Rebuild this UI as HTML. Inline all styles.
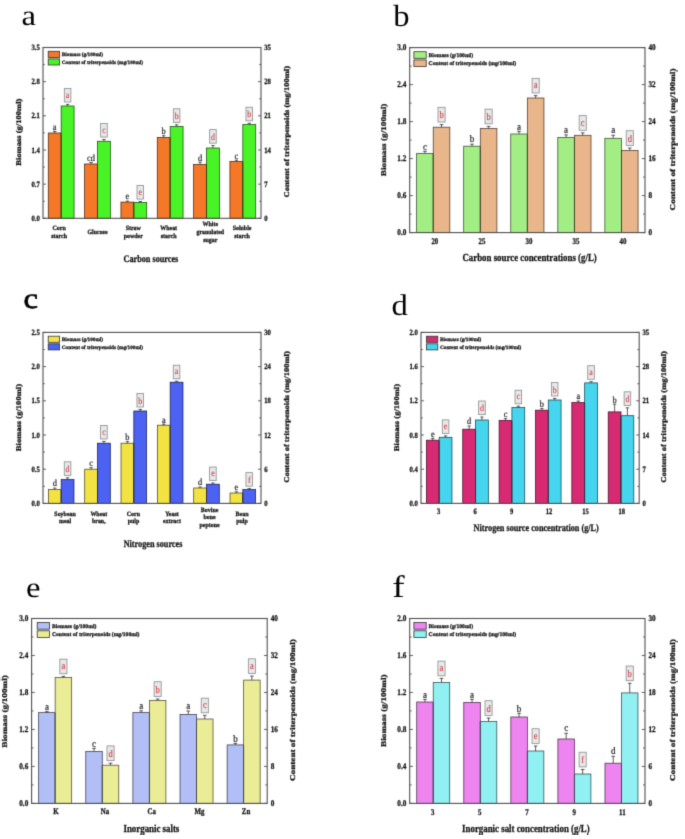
<!DOCTYPE html>
<html><head><meta charset="utf-8"><title>Figure</title>
<style>
html,body{margin:0;padding:0;background:#fff;width:685px;height:839px;overflow:hidden}
svg{display:block;font-family:"Liberation Serif",serif;text-rendering:geometricPrecision}
</style></head><body>
<svg width="685" height="839" viewBox="0 0 685 839">
<defs><filter id="bl" x="0" y="0" width="100%" height="100%" color-interpolation-filters="sRGB"><feConvolveMatrix order="3" kernelMatrix="0 1 0 1 4 1 0 1 0" divisor="8" edgeMode="duplicate"/></filter></defs>
<rect width="685" height="839" fill="#fff"/>
<g filter="url(#bl)">
<text transform="translate(21.5 25.3) scale(1.07 0.94)" font-size="30.5" fill="#000">a</text>
<rect x="48.27" y="133" width="12.9" height="85.3" fill="#F47828" stroke="#4E260C" stroke-width="0.75"/>
<path d="M54.72 133V131.5M53.02 131.5H56.42" stroke="#333" stroke-width="0.8" fill="none"/>
<rect x="61.17" y="106" width="12.9" height="112.3" fill="#48F426" stroke="#174E0C" stroke-width="0.75"/>
<path d="M67.62 106V104.4M65.92 104.4H69.32" stroke="#333" stroke-width="0.8" fill="none"/>
<path d="M61.17 133.4V218.3" stroke="#323A0C" stroke-width="0.75"/>
<text transform="translate(54.72 129.8) scale(0.9 1)" font-size="9.3" text-anchor="middle" fill="#1a1a1a" stroke="#1a1a1a" stroke-width="0.2">a</text>
<rect x="64.32" y="88.4" width="6.6" height="13.6" fill="#E4E9E9" stroke="#8C8C8C" stroke-width="0.8"/>
<text transform="translate(67.62 97.6) scale(0.85 1)" font-size="9.3" text-anchor="middle" fill="#E23240" stroke="#E23240" stroke-width="0.12">a</text>
<text transform="translate(59.17 229.93) scale(0.9 1)" font-size="6.6" text-anchor="middle" font-weight="bold" fill="#161616" stroke="#161616" stroke-width="0.3">Corn</text>
<text transform="translate(59.17 237.83) scale(0.9 1)" font-size="6.6" text-anchor="middle" font-weight="bold" fill="#161616" stroke="#161616" stroke-width="0.3">starch</text>
<rect x="84.6" y="164" width="12.9" height="54.3" fill="#F47828" stroke="#4E260C" stroke-width="0.75"/>
<path d="M91.05 164V162.5M89.35 162.5H92.75" stroke="#333" stroke-width="0.8" fill="none"/>
<rect x="97.5" y="141.25" width="12.9" height="77.05" fill="#48F426" stroke="#174E0C" stroke-width="0.75"/>
<path d="M103.95 141.25V139.45M102.25 139.45H105.65" stroke="#333" stroke-width="0.8" fill="none"/>
<path d="M97.5 164.4V218.3" stroke="#323A0C" stroke-width="0.75"/>
<text transform="translate(91.05 160.8) scale(0.9 1)" font-size="9.3" text-anchor="middle" fill="#1a1a1a" stroke="#1a1a1a" stroke-width="0.2">cd</text>
<rect x="100.65" y="123.45" width="6.6" height="13.6" fill="#E4E9E9" stroke="#8C8C8C" stroke-width="0.8"/>
<text transform="translate(103.95 132.65) scale(0.85 1)" font-size="9.3" text-anchor="middle" fill="#E23240" stroke="#E23240" stroke-width="0.12">c</text>
<text transform="translate(97.5 233.88) scale(0.9 1)" font-size="6.6" text-anchor="middle" font-weight="bold" fill="#161616" stroke="#161616" stroke-width="0.3">Glucose</text>
<rect x="120.93" y="202.1" width="12.9" height="16.2" fill="#F47828" stroke="#4E260C" stroke-width="0.75"/>
<path d="M127.38 202.1V201.1M125.68 201.1H129.08" stroke="#333" stroke-width="0.8" fill="none"/>
<rect x="133.83" y="202.5" width="12.9" height="15.8" fill="#48F426" stroke="#174E0C" stroke-width="0.75"/>
<path d="M140.28 202.5V201.5M138.58 201.5H141.98" stroke="#333" stroke-width="0.8" fill="none"/>
<path d="M133.83 202.9V218.3" stroke="#323A0C" stroke-width="0.75"/>
<text transform="translate(127.38 199.4) scale(0.9 1)" font-size="9.3" text-anchor="middle" fill="#1a1a1a" stroke="#1a1a1a" stroke-width="0.2">e</text>
<rect x="136.98" y="185.5" width="6.6" height="13.6" fill="#E4E9E9" stroke="#8C8C8C" stroke-width="0.8"/>
<text transform="translate(140.28 194.7) scale(0.85 1)" font-size="9.3" text-anchor="middle" fill="#E23240" stroke="#E23240" stroke-width="0.12">e</text>
<text transform="translate(133.23 229.93) scale(0.9 1)" font-size="6.6" text-anchor="middle" font-weight="bold" fill="#161616" stroke="#161616" stroke-width="0.3">Straw</text>
<text transform="translate(133.23 237.83) scale(0.9 1)" font-size="6.6" text-anchor="middle" font-weight="bold" fill="#161616" stroke="#161616" stroke-width="0.3">powder</text>
<rect x="157.27" y="137.5" width="12.9" height="80.8" fill="#F47828" stroke="#4E260C" stroke-width="0.75"/>
<path d="M163.72 137.5V135.7M162.02 135.7H165.42" stroke="#333" stroke-width="0.8" fill="none"/>
<rect x="170.17" y="126.4" width="12.9" height="91.9" fill="#48F426" stroke="#174E0C" stroke-width="0.75"/>
<path d="M176.62 126.4V124.8M174.92 124.8H178.32" stroke="#333" stroke-width="0.8" fill="none"/>
<path d="M170.17 137.9V218.3" stroke="#323A0C" stroke-width="0.75"/>
<text transform="translate(163.72 134) scale(0.9 1)" font-size="9.3" text-anchor="middle" fill="#1a1a1a" stroke="#1a1a1a" stroke-width="0.2">b</text>
<rect x="173.32" y="108.8" width="6.6" height="13.6" fill="#E4E9E9" stroke="#8C8C8C" stroke-width="0.8"/>
<text transform="translate(176.62 118.9) scale(0.85 1)" font-size="9.3" text-anchor="middle" fill="#E23240" stroke="#E23240" stroke-width="0.12">b</text>
<text transform="translate(168.67 229.93) scale(0.9 1)" font-size="6.6" text-anchor="middle" font-weight="bold" fill="#161616" stroke="#161616" stroke-width="0.3">Wheat</text>
<text transform="translate(168.67 237.83) scale(0.9 1)" font-size="6.6" text-anchor="middle" font-weight="bold" fill="#161616" stroke="#161616" stroke-width="0.3">starch</text>
<rect x="193.6" y="164.4" width="12.9" height="53.9" fill="#F47828" stroke="#4E260C" stroke-width="0.75"/>
<path d="M200.05 164.4V162.2M198.35 162.2H201.75" stroke="#333" stroke-width="0.8" fill="none"/>
<rect x="206.5" y="148" width="12.9" height="70.3" fill="#48F426" stroke="#174E0C" stroke-width="0.75"/>
<path d="M212.95 148V145.6M211.25 145.6H214.65" stroke="#333" stroke-width="0.8" fill="none"/>
<path d="M206.5 164.8V218.3" stroke="#323A0C" stroke-width="0.75"/>
<text transform="translate(200.05 160.5) scale(0.9 1)" font-size="9.3" text-anchor="middle" fill="#1a1a1a" stroke="#1a1a1a" stroke-width="0.2">d</text>
<rect x="209.65" y="129.6" width="6.6" height="13.6" fill="#E4E9E9" stroke="#8C8C8C" stroke-width="0.8"/>
<text transform="translate(212.95 139.7) scale(0.85 1)" font-size="9.3" text-anchor="middle" fill="#E23240" stroke="#E23240" stroke-width="0.12">d</text>
<text transform="translate(210.3 225.98) scale(0.9 1)" font-size="6.6" text-anchor="middle" font-weight="bold" fill="#161616" stroke="#161616" stroke-width="0.3">White</text>
<text transform="translate(210.3 233.88) scale(0.9 1)" font-size="6.6" text-anchor="middle" font-weight="bold" fill="#161616" stroke="#161616" stroke-width="0.3">granulated</text>
<text transform="translate(210.3 241.78) scale(0.9 1)" font-size="6.6" text-anchor="middle" font-weight="bold" fill="#161616" stroke="#161616" stroke-width="0.3">sugar</text>
<rect x="229.93" y="161.4" width="12.9" height="56.9" fill="#F47828" stroke="#4E260C" stroke-width="0.75"/>
<path d="M236.38 161.4V160.2M234.68 160.2H238.08" stroke="#333" stroke-width="0.8" fill="none"/>
<rect x="242.83" y="124.6" width="12.9" height="93.7" fill="#48F426" stroke="#174E0C" stroke-width="0.75"/>
<path d="M249.28 124.6V123.2M247.58 123.2H250.98" stroke="#333" stroke-width="0.8" fill="none"/>
<path d="M242.83 161.8V218.3" stroke="#323A0C" stroke-width="0.75"/>
<text transform="translate(236.38 158.5) scale(0.9 1)" font-size="9.3" text-anchor="middle" fill="#1a1a1a" stroke="#1a1a1a" stroke-width="0.2">c</text>
<rect x="245.98" y="107.2" width="6.6" height="13.6" fill="#E4E9E9" stroke="#8C8C8C" stroke-width="0.8"/>
<text transform="translate(249.28 117.3) scale(0.85 1)" font-size="9.3" text-anchor="middle" fill="#E23240" stroke="#E23240" stroke-width="0.12">b</text>
<text transform="translate(242.03 229.93) scale(0.9 1)" font-size="6.6" text-anchor="middle" font-weight="bold" fill="#161616" stroke="#161616" stroke-width="0.3">Soluble</text>
<text transform="translate(242.03 237.83) scale(0.9 1)" font-size="6.6" text-anchor="middle" font-weight="bold" fill="#161616" stroke="#161616" stroke-width="0.3">starch</text>
<rect x="43" y="47.5" width="218" height="170.8" fill="none" stroke="#505050" stroke-width="1.1"/>
<path d="M43 218.3h3M261 218.3h-3M43 201.22h1.8M261 201.22h-1.8M43 184.14h3M261 184.14h-3M43 167.06h1.8M261 167.06h-1.8M43 149.98h3M261 149.98h-3M43 132.9h1.8M261 132.9h-1.8M43 115.82h3M261 115.82h-3M43 98.74h1.8M261 98.74h-1.8M43 81.66h3M261 81.66h-3M43 64.58h1.8M261 64.58h-1.8M43 47.5h3M261 47.5h-3" stroke="#505050" stroke-width="0.9" fill="none"/>
<text transform="translate(39.9 220.94) scale(0.84 1)" font-size="8" text-anchor="end" font-weight="bold" fill="#161616" stroke="#161616" stroke-width="0.3">0.0</text>
<text transform="translate(264.2 220.94) scale(0.84 1)" font-size="8" font-weight="bold" fill="#161616" stroke="#161616" stroke-width="0.3">0</text>
<text transform="translate(39.9 186.78) scale(0.84 1)" font-size="8" text-anchor="end" font-weight="bold" fill="#161616" stroke="#161616" stroke-width="0.3">0.7</text>
<text transform="translate(264.2 186.78) scale(0.84 1)" font-size="8" font-weight="bold" fill="#161616" stroke="#161616" stroke-width="0.3">7</text>
<text transform="translate(39.9 152.62) scale(0.84 1)" font-size="8" text-anchor="end" font-weight="bold" fill="#161616" stroke="#161616" stroke-width="0.3">1.4</text>
<text transform="translate(264.2 152.62) scale(0.84 1)" font-size="8" font-weight="bold" fill="#161616" stroke="#161616" stroke-width="0.3">14</text>
<text transform="translate(39.9 118.46) scale(0.84 1)" font-size="8" text-anchor="end" font-weight="bold" fill="#161616" stroke="#161616" stroke-width="0.3">2.1</text>
<text transform="translate(264.2 118.46) scale(0.84 1)" font-size="8" font-weight="bold" fill="#161616" stroke="#161616" stroke-width="0.3">21</text>
<text transform="translate(39.9 84.3) scale(0.84 1)" font-size="8" text-anchor="end" font-weight="bold" fill="#161616" stroke="#161616" stroke-width="0.3">2.8</text>
<text transform="translate(264.2 84.3) scale(0.84 1)" font-size="8" font-weight="bold" fill="#161616" stroke="#161616" stroke-width="0.3">28</text>
<text transform="translate(39.9 50.14) scale(0.84 1)" font-size="8" text-anchor="end" font-weight="bold" fill="#161616" stroke="#161616" stroke-width="0.3">3.5</text>
<text transform="translate(264.2 50.14) scale(0.84 1)" font-size="8" font-weight="bold" fill="#161616" stroke="#161616" stroke-width="0.3">35</text>
<rect x="48.2" y="51.3" width="11.4" height="6.1" fill="#F47828" stroke="#333" stroke-width="0.8"/>
<text transform="translate(61.8 56.05)" font-size="5.25" font-weight="bold" fill="#161616" stroke="#161616" stroke-width="0.28">Biomass (g/100ml)</text>
<rect x="48.2" y="58.9" width="11.4" height="6.1" fill="#48F426" stroke="#333" stroke-width="0.8"/>
<text transform="translate(61.8 63.65)" font-size="5.25" font-weight="bold" fill="#161616" stroke="#161616" stroke-width="0.28">Content of triterpenoids (mg/100ml)</text>
<text transform="translate(150.9 261.8) scale(0.82 1)" font-size="10" text-anchor="middle" font-weight="bold" fill="#161616" stroke="#161616" stroke-width="0.3">Carbon sources</text>
<text transform="translate(20.8 132.2) rotate(-90) scale(1 0.85)" font-size="8.55" text-anchor="middle" font-weight="bold" fill="#161616" stroke="#161616" stroke-width="0.35">Biomass (g/100ml)</text>
<text transform="translate(288.7 131.75) rotate(-90) scale(1 0.85)" font-size="8.5" text-anchor="middle" font-weight="bold" fill="#161616" stroke="#161616" stroke-width="0.35">Content of triterpenoids (mg/100ml)</text>
<text transform="translate(393.2 25.5) scale(1.07 1)" font-size="30.5" fill="#000">b</text>
<rect x="416.63" y="153.4" width="16.6" height="79.2" fill="#A3EE84" stroke="#344C2A" stroke-width="0.75"/>
<path d="M424.93 153.4V151.4M423.09 151.4H426.77" stroke="#333" stroke-width="0.8" fill="none"/>
<rect x="433.23" y="127.2" width="16.6" height="105.4" fill="#E8B68A" stroke="#4A3A2C" stroke-width="0.75"/>
<path d="M441.53 127.2V124.6M439.69 124.6H443.37" stroke="#333" stroke-width="0.8" fill="none"/>
<path d="M433.23 153.8V232.6" stroke="#3F432B" stroke-width="0.75"/>
<text transform="translate(424.93 149.56) scale(0.9 1)" font-size="10.04" text-anchor="middle" fill="#1a1a1a" stroke="#1a1a1a" stroke-width="0.2">c</text>
<rect x="437.97" y="107.32" width="7.13" height="14.69" fill="#E4E9E9" stroke="#8C8C8C" stroke-width="0.8"/>
<text transform="translate(441.53 118.23) scale(0.85 1)" font-size="10.04" text-anchor="middle" fill="#E23240" stroke="#E23240" stroke-width="0.12">b</text>
<text transform="translate(434.83 243.71) scale(0.8 1)" font-size="8.64" text-anchor="middle" font-weight="bold" fill="#161616" stroke="#161616" stroke-width="0.3">20</text>
<rect x="463.69" y="146.2" width="16.6" height="86.4" fill="#A3EE84" stroke="#344C2A" stroke-width="0.75"/>
<path d="M471.99 146.2V144.2M470.15 144.2H473.83" stroke="#333" stroke-width="0.8" fill="none"/>
<rect x="480.29" y="128.4" width="16.6" height="104.2" fill="#E8B68A" stroke="#4A3A2C" stroke-width="0.75"/>
<path d="M488.59 128.4V126.4M486.75 126.4H490.43" stroke="#333" stroke-width="0.8" fill="none"/>
<path d="M480.29 146.6V232.6" stroke="#3F432B" stroke-width="0.75"/>
<text transform="translate(471.99 142.36) scale(0.9 1)" font-size="10.04" text-anchor="middle" fill="#1a1a1a" stroke="#1a1a1a" stroke-width="0.2">b</text>
<rect x="485.03" y="109.12" width="7.13" height="14.69" fill="#E4E9E9" stroke="#8C8C8C" stroke-width="0.8"/>
<text transform="translate(488.59 120.03) scale(0.85 1)" font-size="10.04" text-anchor="middle" fill="#E23240" stroke="#E23240" stroke-width="0.12">b</text>
<text transform="translate(481.89 243.71) scale(0.8 1)" font-size="8.64" text-anchor="middle" font-weight="bold" fill="#161616" stroke="#161616" stroke-width="0.3">25</text>
<rect x="510.75" y="134" width="16.6" height="98.6" fill="#A3EE84" stroke="#344C2A" stroke-width="0.75"/>
<path d="M519.05 134V131.4M517.21 131.4H520.89" stroke="#333" stroke-width="0.8" fill="none"/>
<rect x="527.35" y="98" width="16.6" height="134.6" fill="#E8B68A" stroke="#4A3A2C" stroke-width="0.75"/>
<path d="M535.65 98V95.6M533.81 95.6H537.49" stroke="#333" stroke-width="0.8" fill="none"/>
<path d="M527.35 134.4V232.6" stroke="#3F432B" stroke-width="0.75"/>
<text transform="translate(519.05 129.56) scale(0.9 1)" font-size="10.04" text-anchor="middle" fill="#1a1a1a" stroke="#1a1a1a" stroke-width="0.2">a</text>
<rect x="532.09" y="78.32" width="7.13" height="14.69" fill="#E4E9E9" stroke="#8C8C8C" stroke-width="0.8"/>
<text transform="translate(535.65 88.26) scale(0.85 1)" font-size="10.04" text-anchor="middle" fill="#E23240" stroke="#E23240" stroke-width="0.12">a</text>
<text transform="translate(528.95 243.71) scale(0.8 1)" font-size="8.64" text-anchor="middle" font-weight="bold" fill="#161616" stroke="#161616" stroke-width="0.3">30</text>
<rect x="557.81" y="137.5" width="16.6" height="95.1" fill="#A3EE84" stroke="#344C2A" stroke-width="0.75"/>
<path d="M566.11 137.5V134.9M564.27 134.9H567.95" stroke="#333" stroke-width="0.8" fill="none"/>
<rect x="574.41" y="135.3" width="16.6" height="97.3" fill="#E8B68A" stroke="#4A3A2C" stroke-width="0.75"/>
<path d="M582.71 135.3V132.9M580.87 132.9H584.55" stroke="#333" stroke-width="0.8" fill="none"/>
<path d="M574.41 137.9V232.6" stroke="#3F432B" stroke-width="0.75"/>
<text transform="translate(566.11 133.06) scale(0.9 1)" font-size="10.04" text-anchor="middle" fill="#1a1a1a" stroke="#1a1a1a" stroke-width="0.2">a</text>
<rect x="579.15" y="115.62" width="7.13" height="14.69" fill="#E4E9E9" stroke="#8C8C8C" stroke-width="0.8"/>
<text transform="translate(582.71 125.56) scale(0.85 1)" font-size="10.04" text-anchor="middle" fill="#E23240" stroke="#E23240" stroke-width="0.12">c</text>
<text transform="translate(576.01 243.71) scale(0.8 1)" font-size="8.64" text-anchor="middle" font-weight="bold" fill="#161616" stroke="#161616" stroke-width="0.3">35</text>
<rect x="604.87" y="138.3" width="16.6" height="94.3" fill="#A3EE84" stroke="#344C2A" stroke-width="0.75"/>
<path d="M613.17 138.3V135.3M611.33 135.3H615.01" stroke="#333" stroke-width="0.8" fill="none"/>
<rect x="621.47" y="150.4" width="16.6" height="82.2" fill="#E8B68A" stroke="#4A3A2C" stroke-width="0.75"/>
<path d="M629.77 150.4V148M627.93 148H631.61" stroke="#333" stroke-width="0.8" fill="none"/>
<path d="M621.47 150.8V232.6" stroke="#3F432B" stroke-width="0.75"/>
<text transform="translate(613.17 133.46) scale(0.9 1)" font-size="10.04" text-anchor="middle" fill="#1a1a1a" stroke="#1a1a1a" stroke-width="0.2">a</text>
<rect x="626.21" y="130.72" width="7.13" height="14.69" fill="#E4E9E9" stroke="#8C8C8C" stroke-width="0.8"/>
<text transform="translate(629.77 141.63) scale(0.85 1)" font-size="10.04" text-anchor="middle" fill="#E23240" stroke="#E23240" stroke-width="0.12">d</text>
<text transform="translate(623.07 243.71) scale(0.8 1)" font-size="8.64" text-anchor="middle" font-weight="bold" fill="#161616" stroke="#161616" stroke-width="0.3">40</text>
<rect x="409.7" y="47.6" width="235.3" height="185" fill="none" stroke="#505050" stroke-width="1.1"/>
<path d="M409.7 232.6h3.24M645 232.6h-3.24M409.7 214.1h1.94M645 214.1h-1.94M409.7 195.6h3.24M645 195.6h-3.24M409.7 177.1h1.94M645 177.1h-1.94M409.7 158.6h3.24M645 158.6h-3.24M409.7 140.1h1.94M645 140.1h-1.94M409.7 121.6h3.24M645 121.6h-3.24M409.7 103.1h1.94M645 103.1h-1.94M409.7 84.6h3.24M645 84.6h-3.24M409.7 66.1h1.94M645 66.1h-1.94M409.7 47.6h3.24M645 47.6h-3.24" stroke="#505050" stroke-width="0.9" fill="none"/>
<text transform="translate(406.35 235.46) scale(0.84 1)" font-size="8.64" text-anchor="end" font-weight="bold" fill="#161616" stroke="#161616" stroke-width="0.3">0.0</text>
<text transform="translate(648.46 235.46) scale(0.84 1)" font-size="8.64" font-weight="bold" fill="#161616" stroke="#161616" stroke-width="0.3">0</text>
<text transform="translate(406.35 198.46) scale(0.84 1)" font-size="8.64" text-anchor="end" font-weight="bold" fill="#161616" stroke="#161616" stroke-width="0.3">0.6</text>
<text transform="translate(648.46 198.46) scale(0.84 1)" font-size="8.64" font-weight="bold" fill="#161616" stroke="#161616" stroke-width="0.3">8</text>
<text transform="translate(406.35 161.46) scale(0.84 1)" font-size="8.64" text-anchor="end" font-weight="bold" fill="#161616" stroke="#161616" stroke-width="0.3">1.2</text>
<text transform="translate(648.46 161.46) scale(0.84 1)" font-size="8.64" font-weight="bold" fill="#161616" stroke="#161616" stroke-width="0.3">16</text>
<text transform="translate(406.35 124.46) scale(0.84 1)" font-size="8.64" text-anchor="end" font-weight="bold" fill="#161616" stroke="#161616" stroke-width="0.3">1.8</text>
<text transform="translate(648.46 124.46) scale(0.84 1)" font-size="8.64" font-weight="bold" fill="#161616" stroke="#161616" stroke-width="0.3">24</text>
<text transform="translate(406.35 87.46) scale(0.84 1)" font-size="8.64" text-anchor="end" font-weight="bold" fill="#161616" stroke="#161616" stroke-width="0.3">2.4</text>
<text transform="translate(648.46 87.46) scale(0.84 1)" font-size="8.64" font-weight="bold" fill="#161616" stroke="#161616" stroke-width="0.3">32</text>
<text transform="translate(406.35 50.46) scale(0.84 1)" font-size="8.64" text-anchor="end" font-weight="bold" fill="#161616" stroke="#161616" stroke-width="0.3">3.0</text>
<text transform="translate(648.46 50.46) scale(0.84 1)" font-size="8.64" font-weight="bold" fill="#161616" stroke="#161616" stroke-width="0.3">40</text>
<rect x="413.9" y="51.7" width="12.31" height="6.59" fill="#A3EE84" stroke="#333" stroke-width="0.8"/>
<text transform="translate(428.59 56.83)" font-size="5.67" font-weight="bold" fill="#161616" stroke="#161616" stroke-width="0.28">Biomass (g/100ml)</text>
<rect x="413.9" y="59.91" width="12.31" height="6.59" fill="#E8B68A" stroke="#333" stroke-width="0.8"/>
<text transform="translate(428.59 65.04)" font-size="5.67" font-weight="bold" fill="#161616" stroke="#161616" stroke-width="0.28">Content of triterpenoids (mg/100ml)</text>
<text transform="translate(529.6 261.3) scale(0.82 1)" font-size="10.8" text-anchor="middle" font-weight="bold" fill="#161616" stroke="#161616" stroke-width="0.3">Carbon source concentrations (g/L)</text>
<text transform="translate(386 139.9) rotate(-90) scale(1 0.79)" font-size="9.23" text-anchor="middle" font-weight="bold" fill="#161616" stroke="#161616" stroke-width="0.35">Biomass (g/100ml)</text>
<text transform="translate(674.9 139.5) rotate(-90) scale(1 0.79)" font-size="9.18" text-anchor="middle" font-weight="bold" fill="#161616" stroke="#161616" stroke-width="0.35">Content of triterpenoids (mg/100ml)</text>
<text transform="translate(23.5 308.4) scale(1.07 0.94)" font-size="30.5" fill="#000" stroke="#000" stroke-width="0.75">c</text>
<rect x="48.37" y="489.6" width="12.8" height="13.8" fill="#F2E342" stroke="#4D4815" stroke-width="0.75"/>
<path d="M54.77 489.6V488.1M53.07 488.1H56.47" stroke="#333" stroke-width="0.8" fill="none"/>
<rect x="61.17" y="479.6" width="12.8" height="23.8" fill="#4B62F2" stroke="#181F4D" stroke-width="0.75"/>
<path d="M67.57 479.6V477.8M65.87 477.8H69.27" stroke="#333" stroke-width="0.8" fill="none"/>
<path d="M61.17 490V503.4" stroke="#323331" stroke-width="0.75"/>
<text transform="translate(54.77 486.4) scale(0.9 1)" font-size="9.3" text-anchor="middle" fill="#1a1a1a" stroke="#1a1a1a" stroke-width="0.2">d</text>
<rect x="64.27" y="461.8" width="6.6" height="13.6" fill="#E4E9E9" stroke="#8C8C8C" stroke-width="0.8"/>
<text transform="translate(67.57 471.9) scale(0.85 1)" font-size="9.3" text-anchor="middle" fill="#E23240" stroke="#E23240" stroke-width="0.12">d</text>
<text transform="translate(65.07 515.53) scale(0.9 1)" font-size="6.6" text-anchor="middle" font-weight="bold" fill="#161616" stroke="#161616" stroke-width="0.3">Soybean</text>
<text transform="translate(65.07 523.43) scale(0.9 1)" font-size="6.6" text-anchor="middle" font-weight="bold" fill="#161616" stroke="#161616" stroke-width="0.3">meal</text>
<rect x="84.7" y="469.2" width="12.8" height="34.2" fill="#F2E342" stroke="#4D4815" stroke-width="0.75"/>
<path d="M91.1 469.2V467.7M89.4 467.7H92.8" stroke="#333" stroke-width="0.8" fill="none"/>
<rect x="97.5" y="443.2" width="12.8" height="60.2" fill="#4B62F2" stroke="#181F4D" stroke-width="0.75"/>
<path d="M103.9 443.2V441.4M102.2 441.4H105.6" stroke="#333" stroke-width="0.8" fill="none"/>
<path d="M97.5 469.6V503.4" stroke="#323331" stroke-width="0.75"/>
<text transform="translate(91.1 466) scale(0.9 1)" font-size="9.3" text-anchor="middle" fill="#1a1a1a" stroke="#1a1a1a" stroke-width="0.2">c</text>
<rect x="100.6" y="425.4" width="6.6" height="13.6" fill="#E4E9E9" stroke="#8C8C8C" stroke-width="0.8"/>
<text transform="translate(103.9 434.6) scale(0.85 1)" font-size="9.3" text-anchor="middle" fill="#E23240" stroke="#E23240" stroke-width="0.12">c</text>
<text transform="translate(98.8 515.53) scale(0.9 1)" font-size="6.6" text-anchor="middle" font-weight="bold" fill="#161616" stroke="#161616" stroke-width="0.3">Wheat</text>
<text transform="translate(98.8 523.43) scale(0.9 1)" font-size="6.6" text-anchor="middle" font-weight="bold" fill="#161616" stroke="#161616" stroke-width="0.3">bran,</text>
<rect x="121.03" y="443.2" width="12.8" height="60.2" fill="#F2E342" stroke="#4D4815" stroke-width="0.75"/>
<path d="M127.43 443.2V441.7M125.73 441.7H129.13" stroke="#333" stroke-width="0.8" fill="none"/>
<rect x="133.83" y="411" width="12.8" height="92.4" fill="#4B62F2" stroke="#181F4D" stroke-width="0.75"/>
<path d="M140.23 411V409.4M138.53 409.4H141.93" stroke="#333" stroke-width="0.8" fill="none"/>
<path d="M133.83 443.6V503.4" stroke="#323331" stroke-width="0.75"/>
<text transform="translate(127.43 440) scale(0.9 1)" font-size="9.3" text-anchor="middle" fill="#1a1a1a" stroke="#1a1a1a" stroke-width="0.2">b</text>
<rect x="136.93" y="393.4" width="6.6" height="13.6" fill="#E4E9E9" stroke="#8C8C8C" stroke-width="0.8"/>
<text transform="translate(140.23 403.5) scale(0.85 1)" font-size="9.3" text-anchor="middle" fill="#E23240" stroke="#E23240" stroke-width="0.12">b</text>
<text transform="translate(133.43 515.53) scale(0.9 1)" font-size="6.6" text-anchor="middle" font-weight="bold" fill="#161616" stroke="#161616" stroke-width="0.3">Corn</text>
<text transform="translate(133.43 523.43) scale(0.9 1)" font-size="6.6" text-anchor="middle" font-weight="bold" fill="#161616" stroke="#161616" stroke-width="0.3">pulp</text>
<rect x="157.37" y="425.2" width="12.8" height="78.2" fill="#F2E342" stroke="#4D4815" stroke-width="0.75"/>
<path d="M163.77 425.2V424.2M162.07 424.2H165.47" stroke="#333" stroke-width="0.8" fill="none"/>
<rect x="170.17" y="382.2" width="12.8" height="121.2" fill="#4B62F2" stroke="#181F4D" stroke-width="0.75"/>
<path d="M176.57 382.2V381.2M174.87 381.2H178.27" stroke="#333" stroke-width="0.8" fill="none"/>
<path d="M170.17 425.6V503.4" stroke="#323331" stroke-width="0.75"/>
<text transform="translate(163.77 422.5) scale(0.9 1)" font-size="9.3" text-anchor="middle" fill="#1a1a1a" stroke="#1a1a1a" stroke-width="0.2">a</text>
<rect x="173.27" y="365.2" width="6.6" height="13.6" fill="#E4E9E9" stroke="#8C8C8C" stroke-width="0.8"/>
<text transform="translate(176.57 374.4) scale(0.85 1)" font-size="9.3" text-anchor="middle" fill="#E23240" stroke="#E23240" stroke-width="0.12">a</text>
<text transform="translate(171.97 515.53) scale(0.9 1)" font-size="6.6" text-anchor="middle" font-weight="bold" fill="#161616" stroke="#161616" stroke-width="0.3">Yeast</text>
<text transform="translate(171.97 523.43) scale(0.9 1)" font-size="6.6" text-anchor="middle" font-weight="bold" fill="#161616" stroke="#161616" stroke-width="0.3">extract</text>
<rect x="193.7" y="488" width="12.8" height="15.4" fill="#F2E342" stroke="#4D4815" stroke-width="0.75"/>
<path d="M200.1 488V487M198.4 487H201.8" stroke="#333" stroke-width="0.8" fill="none"/>
<rect x="206.5" y="484.2" width="12.8" height="19.2" fill="#4B62F2" stroke="#181F4D" stroke-width="0.75"/>
<path d="M212.9 484.2V483M211.2 483H214.6" stroke="#333" stroke-width="0.8" fill="none"/>
<path d="M206.5 488.4V503.4" stroke="#323331" stroke-width="0.75"/>
<text transform="translate(200.1 485.3) scale(0.9 1)" font-size="9.3" text-anchor="middle" fill="#1a1a1a" stroke="#1a1a1a" stroke-width="0.2">d</text>
<rect x="209.6" y="467" width="6.6" height="13.6" fill="#E4E9E9" stroke="#8C8C8C" stroke-width="0.8"/>
<text transform="translate(212.9 476.2) scale(0.85 1)" font-size="9.3" text-anchor="middle" fill="#E23240" stroke="#E23240" stroke-width="0.12">e</text>
<text transform="translate(209.6 511.58) scale(0.9 1)" font-size="6.6" text-anchor="middle" font-weight="bold" fill="#161616" stroke="#161616" stroke-width="0.3">Bovine</text>
<text transform="translate(209.6 519.48) scale(0.9 1)" font-size="6.6" text-anchor="middle" font-weight="bold" fill="#161616" stroke="#161616" stroke-width="0.3">bone</text>
<text transform="translate(209.6 527.38) scale(0.9 1)" font-size="6.6" text-anchor="middle" font-weight="bold" fill="#161616" stroke="#161616" stroke-width="0.3">peptone</text>
<rect x="230.03" y="493" width="12.8" height="10.4" fill="#F2E342" stroke="#4D4815" stroke-width="0.75"/>
<path d="M236.43 493V491.8M234.73 491.8H238.13" stroke="#333" stroke-width="0.8" fill="none"/>
<rect x="242.83" y="489.6" width="12.8" height="13.8" fill="#4B62F2" stroke="#181F4D" stroke-width="0.75"/>
<path d="M249.23 489.6V488.6M247.53 488.6H250.93" stroke="#333" stroke-width="0.8" fill="none"/>
<path d="M242.83 493.4V503.4" stroke="#323331" stroke-width="0.75"/>
<text transform="translate(236.43 490.1) scale(0.9 1)" font-size="9.3" text-anchor="middle" fill="#1a1a1a" stroke="#1a1a1a" stroke-width="0.2">e</text>
<rect x="245.93" y="472.6" width="6.6" height="13.6" fill="#E4E9E9" stroke="#8C8C8C" stroke-width="0.8"/>
<text transform="translate(249.23 482.7) scale(0.85 1)" font-size="9.3" text-anchor="middle" fill="#E23240" stroke="#E23240" stroke-width="0.12">f</text>
<text transform="translate(242.03 515.53) scale(0.9 1)" font-size="6.6" text-anchor="middle" font-weight="bold" fill="#161616" stroke="#161616" stroke-width="0.3">Bean</text>
<text transform="translate(242.03 523.43) scale(0.9 1)" font-size="6.6" text-anchor="middle" font-weight="bold" fill="#161616" stroke="#161616" stroke-width="0.3">pulp</text>
<rect x="43" y="332.4" width="218" height="171" fill="none" stroke="#505050" stroke-width="1.1"/>
<path d="M43 503.4h3M261 503.4h-3M43 486.3h1.8M261 486.3h-1.8M43 469.2h3M261 469.2h-3M43 452.1h1.8M261 452.1h-1.8M43 435h3M261 435h-3M43 417.9h1.8M261 417.9h-1.8M43 400.8h3M261 400.8h-3M43 383.7h1.8M261 383.7h-1.8M43 366.6h3M261 366.6h-3M43 349.5h1.8M261 349.5h-1.8M43 332.4h3M261 332.4h-3" stroke="#505050" stroke-width="0.9" fill="none"/>
<text transform="translate(39.9 506.04) scale(0.84 1)" font-size="8" text-anchor="end" font-weight="bold" fill="#161616" stroke="#161616" stroke-width="0.3">0.0</text>
<text transform="translate(264.2 506.04) scale(0.84 1)" font-size="8" font-weight="bold" fill="#161616" stroke="#161616" stroke-width="0.3">0</text>
<text transform="translate(39.9 471.84) scale(0.84 1)" font-size="8" text-anchor="end" font-weight="bold" fill="#161616" stroke="#161616" stroke-width="0.3">0.5</text>
<text transform="translate(264.2 471.84) scale(0.84 1)" font-size="8" font-weight="bold" fill="#161616" stroke="#161616" stroke-width="0.3">6</text>
<text transform="translate(39.9 437.64) scale(0.84 1)" font-size="8" text-anchor="end" font-weight="bold" fill="#161616" stroke="#161616" stroke-width="0.3">1.0</text>
<text transform="translate(264.2 437.64) scale(0.84 1)" font-size="8" font-weight="bold" fill="#161616" stroke="#161616" stroke-width="0.3">12</text>
<text transform="translate(39.9 403.44) scale(0.84 1)" font-size="8" text-anchor="end" font-weight="bold" fill="#161616" stroke="#161616" stroke-width="0.3">1.5</text>
<text transform="translate(264.2 403.44) scale(0.84 1)" font-size="8" font-weight="bold" fill="#161616" stroke="#161616" stroke-width="0.3">18</text>
<text transform="translate(39.9 369.24) scale(0.84 1)" font-size="8" text-anchor="end" font-weight="bold" fill="#161616" stroke="#161616" stroke-width="0.3">2.0</text>
<text transform="translate(264.2 369.24) scale(0.84 1)" font-size="8" font-weight="bold" fill="#161616" stroke="#161616" stroke-width="0.3">24</text>
<text transform="translate(39.9 335.04) scale(0.84 1)" font-size="8" text-anchor="end" font-weight="bold" fill="#161616" stroke="#161616" stroke-width="0.3">2.5</text>
<text transform="translate(264.2 335.04) scale(0.84 1)" font-size="8" font-weight="bold" fill="#161616" stroke="#161616" stroke-width="0.3">30</text>
<rect x="48.2" y="336.2" width="11.4" height="6.1" fill="#F2E342" stroke="#333" stroke-width="0.8"/>
<text transform="translate(61.8 340.95)" font-size="5.25" font-weight="bold" fill="#161616" stroke="#161616" stroke-width="0.28">Biomass (g/100ml)</text>
<rect x="48.2" y="343.8" width="11.4" height="6.1" fill="#4B62F2" stroke="#333" stroke-width="0.8"/>
<text transform="translate(61.8 348.55)" font-size="5.25" font-weight="bold" fill="#161616" stroke="#161616" stroke-width="0.28">Content of triterpenoids (mg/100ml)</text>
<text transform="translate(153 547.3) scale(0.82 1)" font-size="10" text-anchor="middle" font-weight="bold" fill="#161616" stroke="#161616" stroke-width="0.3">Nitrogen sources</text>
<text transform="translate(20.8 417.6) rotate(-90) scale(1 0.85)" font-size="8.55" text-anchor="middle" font-weight="bold" fill="#161616" stroke="#161616" stroke-width="0.35">Biomass (g/100ml)</text>
<text transform="translate(288.7 417) rotate(-90) scale(1 0.85)" font-size="8.5" text-anchor="middle" font-weight="bold" fill="#161616" stroke="#161616" stroke-width="0.35">Content of triterpenoids (mg/100ml)</text>
<text transform="translate(391.6 314.9) scale(1.07 0.98)" font-size="30.5" fill="#000">d</text>
<rect x="426.38" y="440.2" width="12.8" height="63.2" fill="#D82A72" stroke="#450D24" stroke-width="0.75"/>
<path d="M432.78 440.2V438.6M431.08 438.6H434.48" stroke="#333" stroke-width="0.8" fill="none"/>
<rect x="439.18" y="437.3" width="12.8" height="66.1" fill="#46D5EE" stroke="#16444C" stroke-width="0.75"/>
<path d="M445.58 437.3V435.9M443.88 435.9H447.28" stroke="#333" stroke-width="0.8" fill="none"/>
<path d="M439.18 440.6V503.4" stroke="#2D2838" stroke-width="0.75"/>
<text transform="translate(432.78 436.9) scale(0.9 1)" font-size="9.3" text-anchor="middle" fill="#1a1a1a" stroke="#1a1a1a" stroke-width="0.2">e</text>
<rect x="442.28" y="419.9" width="6.6" height="13.6" fill="#E4E9E9" stroke="#8C8C8C" stroke-width="0.8"/>
<text transform="translate(445.58 429.1) scale(0.85 1)" font-size="9.3" text-anchor="middle" fill="#E23240" stroke="#E23240" stroke-width="0.12">e</text>
<text transform="translate(438.68 513.81) scale(0.8 1)" font-size="8.2" text-anchor="middle" font-weight="bold" fill="#161616" stroke="#161616" stroke-width="0.3">3</text>
<rect x="462.75" y="429.2" width="12.8" height="74.2" fill="#D82A72" stroke="#450D24" stroke-width="0.75"/>
<path d="M469.15 429.2V426M467.45 426H470.85" stroke="#333" stroke-width="0.8" fill="none"/>
<rect x="475.55" y="420" width="12.8" height="83.4" fill="#46D5EE" stroke="#16444C" stroke-width="0.75"/>
<path d="M481.95 420V417M480.25 417H483.65" stroke="#333" stroke-width="0.8" fill="none"/>
<path d="M475.55 429.6V503.4" stroke="#2D2838" stroke-width="0.75"/>
<text transform="translate(469.15 424.3) scale(0.9 1)" font-size="9.3" text-anchor="middle" fill="#1a1a1a" stroke="#1a1a1a" stroke-width="0.2">d</text>
<rect x="478.65" y="401" width="6.6" height="13.6" fill="#E4E9E9" stroke="#8C8C8C" stroke-width="0.8"/>
<text transform="translate(481.95 411.1) scale(0.85 1)" font-size="9.3" text-anchor="middle" fill="#E23240" stroke="#E23240" stroke-width="0.12">d</text>
<text transform="translate(475.05 513.81) scale(0.8 1)" font-size="8.2" text-anchor="middle" font-weight="bold" fill="#161616" stroke="#161616" stroke-width="0.3">6</text>
<rect x="499.12" y="420.4" width="12.8" height="83" fill="#D82A72" stroke="#450D24" stroke-width="0.75"/>
<path d="M505.52 420.4V418.6M503.82 418.6H507.22" stroke="#333" stroke-width="0.8" fill="none"/>
<rect x="511.92" y="407.6" width="12.8" height="95.8" fill="#46D5EE" stroke="#16444C" stroke-width="0.75"/>
<path d="M518.32 407.6V406.2M516.62 406.2H520.02" stroke="#333" stroke-width="0.8" fill="none"/>
<path d="M511.92 420.8V503.4" stroke="#2D2838" stroke-width="0.75"/>
<text transform="translate(505.52 416.9) scale(0.9 1)" font-size="9.3" text-anchor="middle" fill="#1a1a1a" stroke="#1a1a1a" stroke-width="0.2">c</text>
<rect x="515.02" y="390.2" width="6.6" height="13.6" fill="#E4E9E9" stroke="#8C8C8C" stroke-width="0.8"/>
<text transform="translate(518.32 399.4) scale(0.85 1)" font-size="9.3" text-anchor="middle" fill="#E23240" stroke="#E23240" stroke-width="0.12">c</text>
<text transform="translate(511.52 513.81) scale(0.8 1)" font-size="8.2" text-anchor="middle" font-weight="bold" fill="#161616" stroke="#161616" stroke-width="0.3">9</text>
<rect x="535.48" y="410.2" width="12.8" height="93.2" fill="#D82A72" stroke="#450D24" stroke-width="0.75"/>
<path d="M541.88 410.2V408.6M540.18 408.6H543.58" stroke="#333" stroke-width="0.8" fill="none"/>
<rect x="548.28" y="400" width="12.8" height="103.4" fill="#46D5EE" stroke="#16444C" stroke-width="0.75"/>
<path d="M554.68 400V398.4M552.98 398.4H556.38" stroke="#333" stroke-width="0.8" fill="none"/>
<path d="M548.28 410.6V503.4" stroke="#2D2838" stroke-width="0.75"/>
<text transform="translate(541.88 406.9) scale(0.9 1)" font-size="9.3" text-anchor="middle" fill="#1a1a1a" stroke="#1a1a1a" stroke-width="0.2">b</text>
<rect x="551.38" y="382.4" width="6.6" height="13.6" fill="#E4E9E9" stroke="#8C8C8C" stroke-width="0.8"/>
<text transform="translate(554.68 392.5) scale(0.85 1)" font-size="9.3" text-anchor="middle" fill="#E23240" stroke="#E23240" stroke-width="0.12">b</text>
<text transform="translate(549.08 513.81) scale(0.8 1)" font-size="8.2" text-anchor="middle" font-weight="bold" fill="#161616" stroke="#161616" stroke-width="0.3">12</text>
<rect x="571.85" y="402.6" width="12.8" height="100.8" fill="#D82A72" stroke="#450D24" stroke-width="0.75"/>
<path d="M578.25 402.6V401M576.55 401H579.95" stroke="#333" stroke-width="0.8" fill="none"/>
<rect x="584.65" y="382.9" width="12.8" height="120.5" fill="#46D5EE" stroke="#16444C" stroke-width="0.75"/>
<path d="M591.05 382.9V381.7M589.35 381.7H592.75" stroke="#333" stroke-width="0.8" fill="none"/>
<path d="M584.65 403V503.4" stroke="#2D2838" stroke-width="0.75"/>
<text transform="translate(578.25 399.3) scale(0.9 1)" font-size="9.3" text-anchor="middle" fill="#1a1a1a" stroke="#1a1a1a" stroke-width="0.2">a</text>
<rect x="587.75" y="365.7" width="6.6" height="13.6" fill="#E4E9E9" stroke="#8C8C8C" stroke-width="0.8"/>
<text transform="translate(591.05 374.9) scale(0.85 1)" font-size="9.3" text-anchor="middle" fill="#E23240" stroke="#E23240" stroke-width="0.12">a</text>
<text transform="translate(585.45 513.81) scale(0.8 1)" font-size="8.2" text-anchor="middle" font-weight="bold" fill="#161616" stroke="#161616" stroke-width="0.3">15</text>
<rect x="608.22" y="411.9" width="12.8" height="91.5" fill="#D82A72" stroke="#450D24" stroke-width="0.75"/>
<path d="M614.62 411.9V404.2M612.92 404.2H616.32" stroke="#333" stroke-width="0.8" fill="none"/>
<rect x="621.02" y="415.7" width="12.8" height="87.7" fill="#46D5EE" stroke="#16444C" stroke-width="0.75"/>
<path d="M627.42 415.7V407.8M625.72 407.8H629.12" stroke="#333" stroke-width="0.8" fill="none"/>
<path d="M621.02 416.1V503.4" stroke="#2D2838" stroke-width="0.75"/>
<text transform="translate(614.62 402.5) scale(0.9 1)" font-size="9.3" text-anchor="middle" fill="#1a1a1a" stroke="#1a1a1a" stroke-width="0.2">b</text>
<rect x="624.12" y="391.8" width="6.6" height="13.6" fill="#E4E9E9" stroke="#8C8C8C" stroke-width="0.8"/>
<text transform="translate(627.42 401.9) scale(0.85 1)" font-size="9.3" text-anchor="middle" fill="#E23240" stroke="#E23240" stroke-width="0.12">d</text>
<text transform="translate(621.72 513.81) scale(0.8 1)" font-size="8.2" text-anchor="middle" font-weight="bold" fill="#161616" stroke="#161616" stroke-width="0.3">18</text>
<rect x="421" y="332.4" width="218.2" height="171" fill="none" stroke="#505050" stroke-width="1.1"/>
<path d="M421 503.4h3M639.2 503.4h-3M421 486.3h1.8M639.2 486.3h-1.8M421 469.2h3M639.2 469.2h-3M421 452.1h1.8M639.2 452.1h-1.8M421 435h3M639.2 435h-3M421 417.9h1.8M639.2 417.9h-1.8M421 400.8h3M639.2 400.8h-3M421 383.7h1.8M639.2 383.7h-1.8M421 366.6h3M639.2 366.6h-3M421 349.5h1.8M639.2 349.5h-1.8M421 332.4h3M639.2 332.4h-3" stroke="#505050" stroke-width="0.9" fill="none"/>
<text transform="translate(417.9 506.04) scale(0.84 1)" font-size="8" text-anchor="end" font-weight="bold" fill="#161616" stroke="#161616" stroke-width="0.3">0.0</text>
<text transform="translate(642.4 506.04) scale(0.84 1)" font-size="8" font-weight="bold" fill="#161616" stroke="#161616" stroke-width="0.3">0</text>
<text transform="translate(417.9 471.84) scale(0.84 1)" font-size="8" text-anchor="end" font-weight="bold" fill="#161616" stroke="#161616" stroke-width="0.3">0.4</text>
<text transform="translate(642.4 471.84) scale(0.84 1)" font-size="8" font-weight="bold" fill="#161616" stroke="#161616" stroke-width="0.3">7</text>
<text transform="translate(417.9 437.64) scale(0.84 1)" font-size="8" text-anchor="end" font-weight="bold" fill="#161616" stroke="#161616" stroke-width="0.3">0.8</text>
<text transform="translate(642.4 437.64) scale(0.84 1)" font-size="8" font-weight="bold" fill="#161616" stroke="#161616" stroke-width="0.3">14</text>
<text transform="translate(417.9 403.44) scale(0.84 1)" font-size="8" text-anchor="end" font-weight="bold" fill="#161616" stroke="#161616" stroke-width="0.3">1.2</text>
<text transform="translate(642.4 403.44) scale(0.84 1)" font-size="8" font-weight="bold" fill="#161616" stroke="#161616" stroke-width="0.3">21</text>
<text transform="translate(417.9 369.24) scale(0.84 1)" font-size="8" text-anchor="end" font-weight="bold" fill="#161616" stroke="#161616" stroke-width="0.3">1.6</text>
<text transform="translate(642.4 369.24) scale(0.84 1)" font-size="8" font-weight="bold" fill="#161616" stroke="#161616" stroke-width="0.3">28</text>
<text transform="translate(417.9 335.04) scale(0.84 1)" font-size="8" text-anchor="end" font-weight="bold" fill="#161616" stroke="#161616" stroke-width="0.3">2.0</text>
<text transform="translate(642.4 335.04) scale(0.84 1)" font-size="8" font-weight="bold" fill="#161616" stroke="#161616" stroke-width="0.3">35</text>
<rect x="426.4" y="336.2" width="11.4" height="6.1" fill="#D82A72" stroke="#333" stroke-width="0.8"/>
<text transform="translate(440 340.95)" font-size="5.25" font-weight="bold" fill="#161616" stroke="#161616" stroke-width="0.28">Biomass (g/100ml)</text>
<rect x="426.4" y="343.8" width="11.4" height="6.1" fill="#46D5EE" stroke="#333" stroke-width="0.8"/>
<text transform="translate(440 348.55)" font-size="5.25" font-weight="bold" fill="#161616" stroke="#161616" stroke-width="0.28">Content of triterpenoids (mg/100ml)</text>
<text transform="translate(536.2 530.8) scale(0.82 1)" font-size="10" text-anchor="middle" font-weight="bold" fill="#161616" stroke="#161616" stroke-width="0.3">Nitrogen source concentration (g/L)</text>
<text transform="translate(399.4 417.6) rotate(-90) scale(1 0.85)" font-size="8.55" text-anchor="middle" font-weight="bold" fill="#161616" stroke="#161616" stroke-width="0.35">Biomass (g/100ml)</text>
<text transform="translate(666.3 416.9) rotate(-90) scale(1 0.85)" font-size="8.5" text-anchor="middle" font-weight="bold" fill="#161616" stroke="#161616" stroke-width="0.35">Content of triterpenoids (mg/100ml)</text>
<text transform="translate(26 597.2) scale(1.07 0.94)" font-size="30.5" fill="#000">e</text>
<rect x="38.66" y="712.6" width="16.5" height="90.8" fill="#B2BEF6" stroke="#383C4E" stroke-width="0.75"/>
<path d="M46.91 712.6V711.6M45.07 711.6H48.75" stroke="#333" stroke-width="0.8" fill="none"/>
<rect x="55.16" y="677.4" width="16.5" height="126" fill="#EAEC96" stroke="#4A4B30" stroke-width="0.75"/>
<path d="M63.41 677.4V676.4M61.57 676.4H65.25" stroke="#333" stroke-width="0.8" fill="none"/>
<path d="M55.16 713V803.4" stroke="#41443F" stroke-width="0.75"/>
<text transform="translate(46.91 709.76) scale(0.9 1)" font-size="10.04" text-anchor="middle" fill="#1a1a1a" stroke="#1a1a1a" stroke-width="0.2">a</text>
<rect x="59.85" y="659.12" width="7.13" height="14.69" fill="#E4E9E9" stroke="#8C8C8C" stroke-width="0.8"/>
<text transform="translate(63.41 669.06) scale(0.85 1)" font-size="10.04" text-anchor="middle" fill="#E23240" stroke="#E23240" stroke-width="0.12">a</text>
<text transform="translate(56.06 814.46) scale(0.8 1)" font-size="8.64" text-anchor="middle" font-weight="bold" fill="#161616" stroke="#161616" stroke-width="0.3">K</text>
<rect x="85.78" y="751.4" width="16.5" height="52" fill="#B2BEF6" stroke="#383C4E" stroke-width="0.75"/>
<path d="M94.03 751.4V748.4M92.19 748.4H95.87" stroke="#333" stroke-width="0.8" fill="none"/>
<rect x="102.28" y="765.2" width="16.5" height="38.2" fill="#EAEC96" stroke="#4A4B30" stroke-width="0.75"/>
<path d="M110.53 765.2V763.2M108.69 763.2H112.37" stroke="#333" stroke-width="0.8" fill="none"/>
<path d="M102.28 765.6V803.4" stroke="#41443F" stroke-width="0.75"/>
<text transform="translate(94.03 746.56) scale(0.9 1)" font-size="10.04" text-anchor="middle" fill="#1a1a1a" stroke="#1a1a1a" stroke-width="0.2">c</text>
<rect x="106.97" y="745.92" width="7.13" height="14.69" fill="#E4E9E9" stroke="#8C8C8C" stroke-width="0.8"/>
<text transform="translate(110.53 756.83) scale(0.85 1)" font-size="10.04" text-anchor="middle" fill="#E23240" stroke="#E23240" stroke-width="0.12">d</text>
<text transform="translate(104.88 814.46) scale(0.8 1)" font-size="8.64" text-anchor="middle" font-weight="bold" fill="#161616" stroke="#161616" stroke-width="0.3">Na</text>
<rect x="132.9" y="712.4" width="16.5" height="91" fill="#B2BEF6" stroke="#383C4E" stroke-width="0.75"/>
<path d="M141.15 712.4V710.8M139.31 710.8H142.99" stroke="#333" stroke-width="0.8" fill="none"/>
<rect x="149.4" y="700.4" width="16.5" height="103" fill="#EAEC96" stroke="#4A4B30" stroke-width="0.75"/>
<path d="M157.65 700.4V699M155.81 699H159.49" stroke="#333" stroke-width="0.8" fill="none"/>
<path d="M149.4 712.8V803.4" stroke="#41443F" stroke-width="0.75"/>
<text transform="translate(141.15 708.96) scale(0.9 1)" font-size="10.04" text-anchor="middle" fill="#1a1a1a" stroke="#1a1a1a" stroke-width="0.2">a</text>
<rect x="154.09" y="681.72" width="7.13" height="14.69" fill="#E4E9E9" stroke="#8C8C8C" stroke-width="0.8"/>
<text transform="translate(157.65 692.63) scale(0.85 1)" font-size="10.04" text-anchor="middle" fill="#E23240" stroke="#E23240" stroke-width="0.12">b</text>
<text transform="translate(151.8 814.46) scale(0.8 1)" font-size="8.64" text-anchor="middle" font-weight="bold" fill="#161616" stroke="#161616" stroke-width="0.3">Ca</text>
<rect x="180.02" y="714.4" width="16.5" height="89" fill="#B2BEF6" stroke="#383C4E" stroke-width="0.75"/>
<path d="M188.27 714.4V711M186.43 711H190.11" stroke="#333" stroke-width="0.8" fill="none"/>
<rect x="196.52" y="719" width="16.5" height="84.4" fill="#EAEC96" stroke="#4A4B30" stroke-width="0.75"/>
<path d="M204.77 719V715.4M202.93 715.4H206.61" stroke="#333" stroke-width="0.8" fill="none"/>
<path d="M196.52 719.4V803.4" stroke="#41443F" stroke-width="0.75"/>
<text transform="translate(188.27 709.16) scale(0.9 1)" font-size="10.04" text-anchor="middle" fill="#1a1a1a" stroke="#1a1a1a" stroke-width="0.2">a</text>
<rect x="201.21" y="698.12" width="7.13" height="14.69" fill="#E4E9E9" stroke="#8C8C8C" stroke-width="0.8"/>
<text transform="translate(204.77 708.06) scale(0.85 1)" font-size="10.04" text-anchor="middle" fill="#E23240" stroke="#E23240" stroke-width="0.12">c</text>
<text transform="translate(199.52 814.46) scale(0.8 1)" font-size="8.64" text-anchor="middle" font-weight="bold" fill="#161616" stroke="#161616" stroke-width="0.3">Mg</text>
<rect x="227.14" y="744.9" width="16.5" height="58.5" fill="#B2BEF6" stroke="#383C4E" stroke-width="0.75"/>
<path d="M235.39 744.9V743.4M233.55 743.4H237.23" stroke="#333" stroke-width="0.8" fill="none"/>
<rect x="243.64" y="680.1" width="16.5" height="123.3" fill="#EAEC96" stroke="#4A4B30" stroke-width="0.75"/>
<path d="M251.89 680.1V676.1M250.05 676.1H253.73" stroke="#333" stroke-width="0.8" fill="none"/>
<path d="M243.64 745.3V803.4" stroke="#41443F" stroke-width="0.75"/>
<text transform="translate(235.39 741.56) scale(0.9 1)" font-size="10.04" text-anchor="middle" fill="#1a1a1a" stroke="#1a1a1a" stroke-width="0.2">b</text>
<rect x="248.33" y="658.82" width="7.13" height="14.69" fill="#E4E9E9" stroke="#8C8C8C" stroke-width="0.8"/>
<text transform="translate(251.89 668.76) scale(0.85 1)" font-size="10.04" text-anchor="middle" fill="#E23240" stroke="#E23240" stroke-width="0.12">a</text>
<text transform="translate(246.04 814.46) scale(0.8 1)" font-size="8.64" text-anchor="middle" font-weight="bold" fill="#161616" stroke="#161616" stroke-width="0.3">Zn</text>
<rect x="31.6" y="618.5" width="235.6" height="184.9" fill="none" stroke="#505050" stroke-width="1.1"/>
<path d="M31.6 803.4h3.24M267.2 803.4h-3.24M31.6 784.91h1.94M267.2 784.91h-1.94M31.6 766.42h3.24M267.2 766.42h-3.24M31.6 747.93h1.94M267.2 747.93h-1.94M31.6 729.44h3.24M267.2 729.44h-3.24M31.6 710.95h1.94M267.2 710.95h-1.94M31.6 692.46h3.24M267.2 692.46h-3.24M31.6 673.97h1.94M267.2 673.97h-1.94M31.6 655.48h3.24M267.2 655.48h-3.24M31.6 636.99h1.94M267.2 636.99h-1.94M31.6 618.5h3.24M267.2 618.5h-3.24" stroke="#505050" stroke-width="0.9" fill="none"/>
<text transform="translate(28.25 806.26) scale(0.84 1)" font-size="8.64" text-anchor="end" font-weight="bold" fill="#161616" stroke="#161616" stroke-width="0.3">0.0</text>
<text transform="translate(270.66 806.26) scale(0.84 1)" font-size="8.64" font-weight="bold" fill="#161616" stroke="#161616" stroke-width="0.3">0</text>
<text transform="translate(28.25 769.28) scale(0.84 1)" font-size="8.64" text-anchor="end" font-weight="bold" fill="#161616" stroke="#161616" stroke-width="0.3">0.6</text>
<text transform="translate(270.66 769.28) scale(0.84 1)" font-size="8.64" font-weight="bold" fill="#161616" stroke="#161616" stroke-width="0.3">8</text>
<text transform="translate(28.25 732.3) scale(0.84 1)" font-size="8.64" text-anchor="end" font-weight="bold" fill="#161616" stroke="#161616" stroke-width="0.3">1.2</text>
<text transform="translate(270.66 732.3) scale(0.84 1)" font-size="8.64" font-weight="bold" fill="#161616" stroke="#161616" stroke-width="0.3">16</text>
<text transform="translate(28.25 695.32) scale(0.84 1)" font-size="8.64" text-anchor="end" font-weight="bold" fill="#161616" stroke="#161616" stroke-width="0.3">1.8</text>
<text transform="translate(270.66 695.32) scale(0.84 1)" font-size="8.64" font-weight="bold" fill="#161616" stroke="#161616" stroke-width="0.3">24</text>
<text transform="translate(28.25 658.34) scale(0.84 1)" font-size="8.64" text-anchor="end" font-weight="bold" fill="#161616" stroke="#161616" stroke-width="0.3">2.4</text>
<text transform="translate(270.66 658.34) scale(0.84 1)" font-size="8.64" font-weight="bold" fill="#161616" stroke="#161616" stroke-width="0.3">32</text>
<text transform="translate(28.25 621.36) scale(0.84 1)" font-size="8.64" text-anchor="end" font-weight="bold" fill="#161616" stroke="#161616" stroke-width="0.3">3.0</text>
<text transform="translate(270.66 621.36) scale(0.84 1)" font-size="8.64" font-weight="bold" fill="#161616" stroke="#161616" stroke-width="0.3">40</text>
<rect x="37.2" y="622.6" width="12.31" height="6.59" fill="#B2BEF6" stroke="#333" stroke-width="0.8"/>
<text transform="translate(51.89 627.73)" font-size="5.67" font-weight="bold" fill="#161616" stroke="#161616" stroke-width="0.28">Biomass (g/100ml)</text>
<rect x="37.2" y="630.81" width="12.31" height="6.59" fill="#EAEC96" stroke="#333" stroke-width="0.8"/>
<text transform="translate(51.89 635.94)" font-size="5.67" font-weight="bold" fill="#161616" stroke="#161616" stroke-width="0.28">Content of triterpenoids (mg/100ml)</text>
<text transform="translate(151.4 831.5) scale(0.82 1)" font-size="10.8" text-anchor="middle" font-weight="bold" fill="#161616" stroke="#161616" stroke-width="0.3">Inorganic salts</text>
<text transform="translate(7.3 711.4) rotate(-90) scale(1 0.79)" font-size="9.23" text-anchor="middle" font-weight="bold" fill="#161616" stroke="#161616" stroke-width="0.35">Biomass (g/100ml)</text>
<text transform="translate(295 710.1) rotate(-90) scale(1 0.79)" font-size="9.18" text-anchor="middle" font-weight="bold" fill="#161616" stroke="#161616" stroke-width="0.35">Content of triterpenoids (mg/100ml)</text>
<text transform="translate(392.2 597.3) scale(1.22 1.02)" font-size="30.5" fill="#000">f</text>
<rect x="416.73" y="702" width="16.5" height="101.4" fill="#EE84F0" stroke="#4C2A4C" stroke-width="0.75"/>
<path d="M424.98 702V699.4M423.14 699.4H426.82" stroke="#333" stroke-width="0.8" fill="none"/>
<rect x="433.23" y="682.4" width="16.5" height="121" fill="#90F0F2" stroke="#2E4C4D" stroke-width="0.75"/>
<path d="M441.48 682.4V678.4M439.64 678.4H443.32" stroke="#333" stroke-width="0.8" fill="none"/>
<path d="M433.23 702.4V803.4" stroke="#3D3B4D" stroke-width="0.75"/>
<text transform="translate(424.98 697.56) scale(0.9 1)" font-size="10.04" text-anchor="middle" fill="#1a1a1a" stroke="#1a1a1a" stroke-width="0.2">a</text>
<rect x="437.92" y="661.12" width="7.13" height="14.69" fill="#E4E9E9" stroke="#8C8C8C" stroke-width="0.8"/>
<text transform="translate(441.48 671.06) scale(0.85 1)" font-size="10.04" text-anchor="middle" fill="#E23240" stroke="#E23240" stroke-width="0.12">a</text>
<text transform="translate(432.83 814.76) scale(0.8 1)" font-size="8.64" text-anchor="middle" font-weight="bold" fill="#161616" stroke="#161616" stroke-width="0.3">3</text>
<rect x="463.79" y="702.4" width="16.5" height="101" fill="#EE84F0" stroke="#4C2A4C" stroke-width="0.75"/>
<path d="M472.04 702.4V699.4M470.2 699.4H473.88" stroke="#333" stroke-width="0.8" fill="none"/>
<rect x="480.29" y="721.4" width="16.5" height="82" fill="#90F0F2" stroke="#2E4C4D" stroke-width="0.75"/>
<path d="M488.54 721.4V718M486.7 718H490.38" stroke="#333" stroke-width="0.8" fill="none"/>
<path d="M480.29 721.8V803.4" stroke="#3D3B4D" stroke-width="0.75"/>
<text transform="translate(472.04 697.56) scale(0.9 1)" font-size="10.04" text-anchor="middle" fill="#1a1a1a" stroke="#1a1a1a" stroke-width="0.2">a</text>
<rect x="484.98" y="700.72" width="7.13" height="14.69" fill="#E4E9E9" stroke="#8C8C8C" stroke-width="0.8"/>
<text transform="translate(488.54 711.63) scale(0.85 1)" font-size="10.04" text-anchor="middle" fill="#E23240" stroke="#E23240" stroke-width="0.12">d</text>
<text transform="translate(479.69 814.76) scale(0.8 1)" font-size="8.64" text-anchor="middle" font-weight="bold" fill="#161616" stroke="#161616" stroke-width="0.3">5</text>
<rect x="510.85" y="717" width="16.5" height="86.4" fill="#EE84F0" stroke="#4C2A4C" stroke-width="0.75"/>
<path d="M519.1 717V713.4M517.26 713.4H520.94" stroke="#333" stroke-width="0.8" fill="none"/>
<rect x="527.35" y="751" width="16.5" height="52.4" fill="#90F0F2" stroke="#2E4C4D" stroke-width="0.75"/>
<path d="M535.6 751V746M533.76 746H537.44" stroke="#333" stroke-width="0.8" fill="none"/>
<path d="M527.35 751.4V803.4" stroke="#3D3B4D" stroke-width="0.75"/>
<text transform="translate(519.1 711.56) scale(0.9 1)" font-size="10.04" text-anchor="middle" fill="#1a1a1a" stroke="#1a1a1a" stroke-width="0.2">b</text>
<rect x="532.04" y="728.72" width="7.13" height="14.69" fill="#E4E9E9" stroke="#8C8C8C" stroke-width="0.8"/>
<text transform="translate(535.6 738.66) scale(0.85 1)" font-size="10.04" text-anchor="middle" fill="#E23240" stroke="#E23240" stroke-width="0.12">e</text>
<text transform="translate(527.05 814.76) scale(0.8 1)" font-size="8.64" text-anchor="middle" font-weight="bold" fill="#161616" stroke="#161616" stroke-width="0.3">7</text>
<rect x="557.91" y="739" width="16.5" height="64.4" fill="#EE84F0" stroke="#4C2A4C" stroke-width="0.75"/>
<path d="M566.16 739V733.3M564.32 733.3H568" stroke="#333" stroke-width="0.8" fill="none"/>
<rect x="574.41" y="774" width="16.5" height="29.4" fill="#90F0F2" stroke="#2E4C4D" stroke-width="0.75"/>
<path d="M582.66 774V769.5M580.82 769.5H584.5" stroke="#333" stroke-width="0.8" fill="none"/>
<path d="M574.41 774.4V803.4" stroke="#3D3B4D" stroke-width="0.75"/>
<text transform="translate(566.16 731.46) scale(0.9 1)" font-size="10.04" text-anchor="middle" fill="#1a1a1a" stroke="#1a1a1a" stroke-width="0.2">c</text>
<rect x="579.1" y="752.22" width="7.13" height="14.69" fill="#E4E9E9" stroke="#8C8C8C" stroke-width="0.8"/>
<text transform="translate(582.66 763.13) scale(0.85 1)" font-size="10.04" text-anchor="middle" fill="#E23240" stroke="#E23240" stroke-width="0.12">f</text>
<text transform="translate(574.21 814.76) scale(0.8 1)" font-size="8.64" text-anchor="middle" font-weight="bold" fill="#161616" stroke="#161616" stroke-width="0.3">9</text>
<rect x="604.97" y="763.2" width="16.5" height="40.2" fill="#EE84F0" stroke="#4C2A4C" stroke-width="0.75"/>
<path d="M613.22 763.2V756.3M611.38 756.3H615.06" stroke="#333" stroke-width="0.8" fill="none"/>
<rect x="621.47" y="692.9" width="16.5" height="110.5" fill="#90F0F2" stroke="#2E4C4D" stroke-width="0.75"/>
<path d="M629.72 692.9V683.3M627.88 683.3H631.56" stroke="#333" stroke-width="0.8" fill="none"/>
<path d="M621.47 763.6V803.4" stroke="#3D3B4D" stroke-width="0.75"/>
<text transform="translate(613.22 754.46) scale(0.9 1)" font-size="10.04" text-anchor="middle" fill="#1a1a1a" stroke="#1a1a1a" stroke-width="0.2">d</text>
<rect x="626.16" y="666.02" width="7.13" height="14.69" fill="#E4E9E9" stroke="#8C8C8C" stroke-width="0.8"/>
<text transform="translate(629.72 676.93) scale(0.85 1)" font-size="10.04" text-anchor="middle" fill="#E23240" stroke="#E23240" stroke-width="0.12">b</text>
<text transform="translate(622.37 814.76) scale(0.8 1)" font-size="8.64" text-anchor="middle" font-weight="bold" fill="#161616" stroke="#161616" stroke-width="0.3">11</text>
<rect x="409.7" y="618.5" width="235.3" height="184.9" fill="none" stroke="#505050" stroke-width="1.1"/>
<path d="M409.7 803.4h3.24M645 803.4h-3.24M409.7 784.91h1.94M645 784.91h-1.94M409.7 766.42h3.24M645 766.42h-3.24M409.7 747.93h1.94M645 747.93h-1.94M409.7 729.44h3.24M645 729.44h-3.24M409.7 710.95h1.94M645 710.95h-1.94M409.7 692.46h3.24M645 692.46h-3.24M409.7 673.97h1.94M645 673.97h-1.94M409.7 655.48h3.24M645 655.48h-3.24M409.7 636.99h1.94M645 636.99h-1.94M409.7 618.5h3.24M645 618.5h-3.24" stroke="#505050" stroke-width="0.9" fill="none"/>
<text transform="translate(406.35 806.26) scale(0.84 1)" font-size="8.64" text-anchor="end" font-weight="bold" fill="#161616" stroke="#161616" stroke-width="0.3">0.0</text>
<text transform="translate(648.46 806.26) scale(0.84 1)" font-size="8.64" font-weight="bold" fill="#161616" stroke="#161616" stroke-width="0.3">0</text>
<text transform="translate(406.35 769.28) scale(0.84 1)" font-size="8.64" text-anchor="end" font-weight="bold" fill="#161616" stroke="#161616" stroke-width="0.3">0.4</text>
<text transform="translate(648.46 769.28) scale(0.84 1)" font-size="8.64" font-weight="bold" fill="#161616" stroke="#161616" stroke-width="0.3">6</text>
<text transform="translate(406.35 732.3) scale(0.84 1)" font-size="8.64" text-anchor="end" font-weight="bold" fill="#161616" stroke="#161616" stroke-width="0.3">0.8</text>
<text transform="translate(648.46 732.3) scale(0.84 1)" font-size="8.64" font-weight="bold" fill="#161616" stroke="#161616" stroke-width="0.3">12</text>
<text transform="translate(406.35 695.32) scale(0.84 1)" font-size="8.64" text-anchor="end" font-weight="bold" fill="#161616" stroke="#161616" stroke-width="0.3">1.2</text>
<text transform="translate(648.46 695.32) scale(0.84 1)" font-size="8.64" font-weight="bold" fill="#161616" stroke="#161616" stroke-width="0.3">18</text>
<text transform="translate(406.35 658.34) scale(0.84 1)" font-size="8.64" text-anchor="end" font-weight="bold" fill="#161616" stroke="#161616" stroke-width="0.3">1.6</text>
<text transform="translate(648.46 658.34) scale(0.84 1)" font-size="8.64" font-weight="bold" fill="#161616" stroke="#161616" stroke-width="0.3">24</text>
<text transform="translate(406.35 621.36) scale(0.84 1)" font-size="8.64" text-anchor="end" font-weight="bold" fill="#161616" stroke="#161616" stroke-width="0.3">2.0</text>
<text transform="translate(648.46 621.36) scale(0.84 1)" font-size="8.64" font-weight="bold" fill="#161616" stroke="#161616" stroke-width="0.3">30</text>
<rect x="413.9" y="622.6" width="12.31" height="6.59" fill="#EE84F0" stroke="#333" stroke-width="0.8"/>
<text transform="translate(428.59 627.73)" font-size="5.67" font-weight="bold" fill="#161616" stroke="#161616" stroke-width="0.28">Biomass (g/100ml)</text>
<rect x="413.9" y="630.81" width="12.31" height="6.59" fill="#90F0F2" stroke="#333" stroke-width="0.8"/>
<text transform="translate(428.59 635.94)" font-size="5.67" font-weight="bold" fill="#161616" stroke="#161616" stroke-width="0.28">Content of triterpenoids (mg/100ml)</text>
<text transform="translate(525.9 831.5) scale(0.82 1)" font-size="10.8" text-anchor="middle" font-weight="bold" fill="#161616" stroke="#161616" stroke-width="0.3">Inorganic salt concentration (g/L)</text>
<text transform="translate(386.1 710.7) rotate(-90) scale(1 0.79)" font-size="9.23" text-anchor="middle" font-weight="bold" fill="#161616" stroke="#161616" stroke-width="0.35">Biomass (g/100ml)</text>
<text transform="translate(675 710.1) rotate(-90) scale(1 0.79)" font-size="9.18" text-anchor="middle" font-weight="bold" fill="#161616" stroke="#161616" stroke-width="0.35">Content of triterpenoids (mg/100ml)</text>
</g>
</svg>
</body></html>
